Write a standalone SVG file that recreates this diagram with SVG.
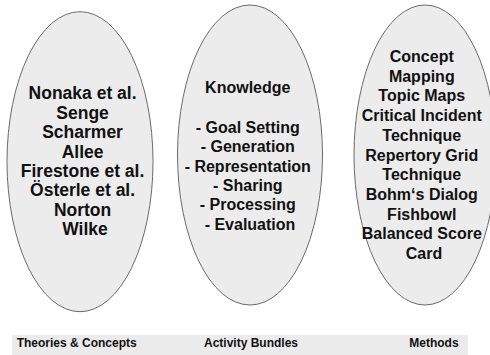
<svg xmlns="http://www.w3.org/2000/svg" width="490" height="355" viewBox="0 0 490 355">
  <style>
    .oval { fill: #ececec; stroke: #6a6a6a; stroke-width: 1; }
    .lbl { font-family: "Liberation Sans", Arial, sans-serif; font-weight: bold; fill: #111; text-anchor: middle; }
    .big { font-size: 17.5px; }
    .mid { font-size: 16px; }
    .cap { font-family: "Liberation Sans", Arial, sans-serif; font-weight: bold; font-size: 12px; fill: #111; }
  </style>
  <rect width="490" height="355" fill="#ffffff"/>

  <!-- Theories & Concepts -->
  <g id="theories">
    <ellipse class="oval" cx="80" cy="161.7" rx="73" ry="150"/>
    <text class="lbl big" x="85">
      <tspan x="85" y="99.3">Nonaka et al.</tspan>
      <tspan x="85" y="118.7">Senge</tspan>
      <tspan x="85" y="138.1">Scharmer</tspan>
      <tspan x="85" y="157.5">Allee</tspan>
      <tspan x="85" y="176.9">Firestone et al.</tspan>
      <tspan x="85" y="196.3">Österle et al.</tspan>
      <tspan x="85" y="215.7">Norton</tspan>
      <tspan x="85" y="235.1">Wilke</tspan>
    </text>
  </g>

  <!-- Activity Bundles -->
  <g id="activities">
    <ellipse class="oval" cx="250" cy="155" rx="72.5" ry="150"/>
    <text class="lbl mid" x="250">
      <tspan x="250" y="92.5">Knowledge</tspan>
      <tspan x="250" y="133">- Goal Setting</tspan>
      <tspan x="250" y="152.3">- Generation</tspan>
      <tspan x="250" y="171.6">- Representation</tspan>
      <tspan x="250" y="190.9">- Sharing</tspan>
      <tspan x="250" y="210.2">- Processing</tspan>
      <tspan x="250" y="229.5">- Evaluation</tspan>
    </text>
  </g>

  <!-- Methods -->
  <g id="methods">
    <ellipse class="oval" cx="425" cy="155" rx="71" ry="150"/>
    <text class="lbl mid" x="424">
      <tspan x="424" y="62">Concept</tspan>
      <tspan x="424" y="81.7">Mapping</tspan>
      <tspan x="424" y="101.4">Topic Maps</tspan>
      <tspan x="424" y="121.1">Critical Incident</tspan>
      <tspan x="424" y="140.8">Technique</tspan>
      <tspan x="424" y="160.5">Repertory Grid</tspan>
      <tspan x="424" y="180.2">Technique</tspan>
      <tspan x="424" y="199.9">Bohm‘s Dialog</tspan>
      <tspan x="424" y="219.6">Fishbowl</tspan>
      <tspan x="424" y="239.3">Balanced Score</tspan>
      <tspan x="424" y="259">Card</tspan>
    </text>
  </g>

  <!-- column captions -->
  <g id="captions">
    <rect x="12" y="335" width="456" height="20" fill="#ebebeb"/>
    <text class="cap" x="16.7" y="346.5">Theories &amp; Concepts</text>
    <text class="cap" x="204" y="346.5">Activity Bundles</text>
    <text class="cap" x="409.3" y="346.5">Methods</text>
  </g>

  <g id="connectors"/>
</svg>
